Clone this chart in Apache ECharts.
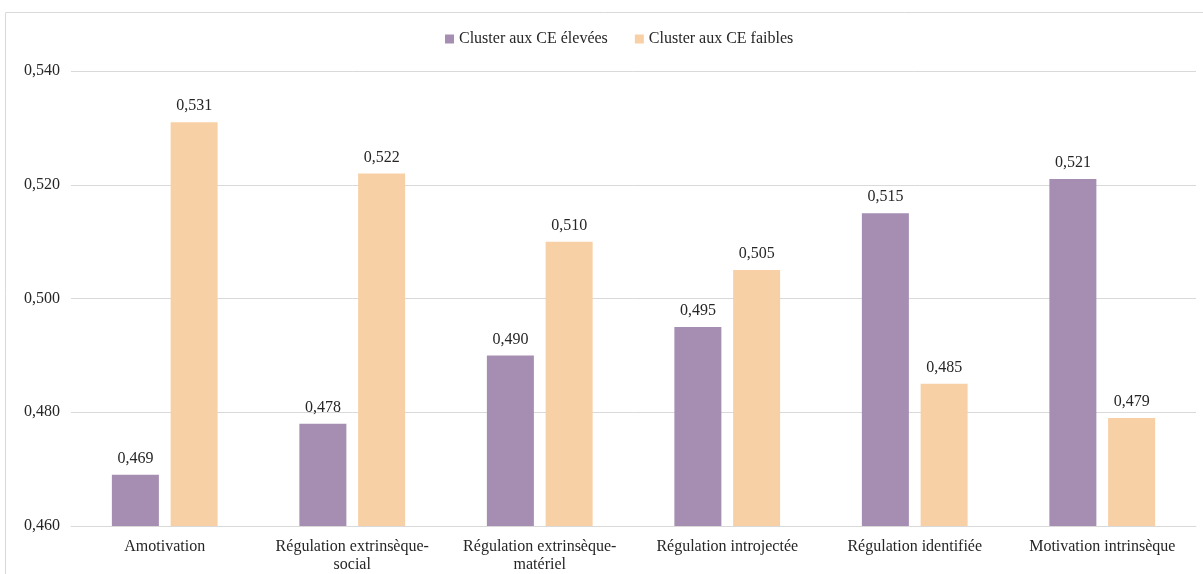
<!DOCTYPE html>
<html><head><meta charset="utf-8">
<script src="https://cdn.jsdelivr.net/npm/echarts@6/dist/echarts.min.js"></script>
<style>html,body{margin:0;padding:0;background:#fff}#c{width:1203px;height:574px}</style>
</head><body><div id="c"></div>
<script>
const categories = ['Amotivation', 'Régulation extrinsèque-\nsocial', 'Régulation extrinsèque-\nmatériel', 'Régulation introjectée', 'Régulation identifiée', 'Motivation intrinsèque'];
const seriesNames = ['Cluster aux CE élevées', 'Cluster aux CE faibles'];
const high = [0.469, 0.478, 0.490, 0.495, 0.515, 0.521];
const low = [0.531, 0.522, 0.510, 0.505, 0.485, 0.479];
const fmt = v => v.toFixed(3).replace('.', ',');
const font = 'Liberation Serif';
const chart = echarts.init(document.getElementById('c'));
chart.setOption({
  animation: false,
  textStyle: { fontFamily: font },
  graphic: [{ type: 'rect', shape: { x: 5.5, y: 12.5, width: 1220, height: 600 }, style: { fill: 'none', stroke: '#d9d9d9', lineWidth: 1 }, silent: true }],
  legend: {
    top: 26, left: 440, itemWidth: 9, itemHeight: 9, itemGap: 27,
    icon: 'rect',
    textStyle: { fontFamily: font, fontSize: 16, color: '#262626' },
    data: seriesNames
  },
  grid: { left: 71, right: 7, top: 71, bottom: 44, containLabel: false },
  xAxis: {
    type: 'category', data: categories,
    axisLine: { lineStyle: { color: '#d9d9d9', width: 1 } },
    axisTick: { show: false },
    axisLabel: { fontFamily: font, fontSize: 16, color: '#262626', margin: 12, lineHeight: 18, interval: 0 }
  },
  yAxis: {
    type: 'value', min: 0.46, max: 0.54, interval: 0.02,
    axisLine: { show: false }, axisTick: { show: false },
    splitLine: { lineStyle: { color: '#d9d9d9' } },
    axisLabel: { fontFamily: font, fontSize: 16, color: '#262626', margin: 11, formatter: fmt }
  },
  series: [
    { name: seriesNames[0], type: 'bar', data: high, barWidth: 47, barGap: '25%',
      itemStyle: { color: '#a68db2' },
      label: { show: true, position: 'top', distance: 8, fontFamily: font, fontSize: 16, color: '#262626', formatter: p => fmt(p.value) } },
    { name: seriesNames[1], type: 'bar', data: low, barWidth: 47,
      itemStyle: { color: '#f8d0a5' },
      label: { show: true, position: 'top', distance: 8, fontFamily: font, fontSize: 16, color: '#262626', formatter: p => fmt(p.value) } }
  ]
});
</script></body></html>
